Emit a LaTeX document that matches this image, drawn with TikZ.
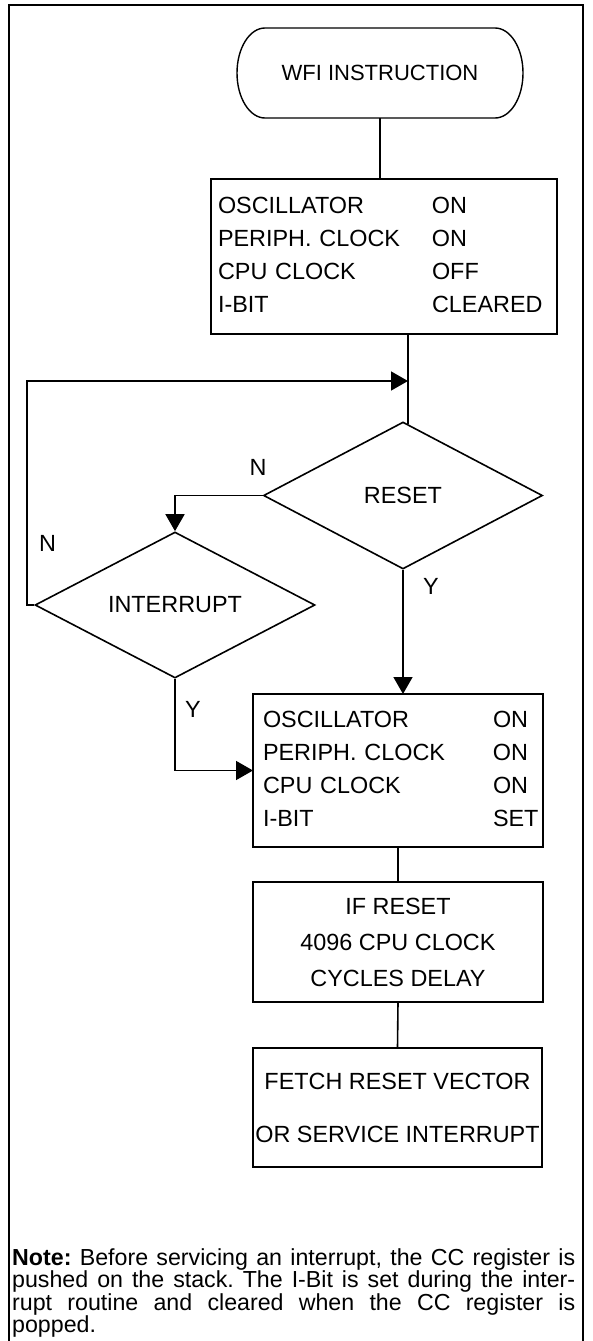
\documentclass[tikz,border=0pt]{standalone}
\usepackage{fontspec}
\setmainfont{Liberation Sans}
\frenchspacing
\usetikzlibrary{shapes.geometric,arrows.meta}
\tikzset{
  panel/.style={draw,line width=2pt,inner sep=0pt,outer sep=0pt,font=\fontsize{23.4}{33}\selectfont},
  choice/.style={draw,diamond,line width=1.6pt,inner sep=0pt,aspect=1.9,font=\fontsize{23.4}{27}\selectfont},
  flow/.style={line width=1.6pt},
  arr/.style={flow,-{Triangle[length=17pt,width=19pt]}},
  tag/.style={inner sep=0pt,font=\fontsize{23.4}{27}\selectfont},
}
\begin{document}
\begin{tikzpicture}[x=1pt,y=1pt]
      \useasboundingbox (0,0) rectangle (592,-1341);
      \draw[line width=2.6pt] (9,-1341) -- (9,-5) -- (583,-5) -- (583,-1341);
      \node[inner sep=0pt,outer sep=0pt,minimum width=286pt,minimum height=90pt,
        font=\fontsize{22}{26}\selectfont] (wfi) at (380,-73) {WFI INSTRUCTION};
      \draw[line width=1.4pt] ([xshift=28pt]wfi.north west) -- ([xshift=-28pt]wfi.north east)
        arc[start angle=90,end angle=-90,x radius=28pt,y radius=45pt]
        -- ([xshift=28pt]wfi.south west)
        arc[start angle=270,end angle=90,x radius=28pt,y radius=45pt] -- cycle;
      \node[panel,minimum width=346pt,minimum height=155pt,text width=332pt] (osc1) at (384,-256.5)
        {\begin{tabular}{@{}p{214pt}@{}l@{}}
          OSCILLATOR & ON\\
          PERIPH. CLOCK & ON\\
          CPU CLOCK & OFF\\
          I-BIT & CLEARED
        \end{tabular}};
      \node[choice,minimum width=279pt,minimum height=147pt] (reset) at (403,-495.5) {RESET};
      \node[choice,minimum width=280pt,minimum height=146pt] (intr) at (175,-605) {INTERRUPT};
      \node[panel,minimum width=290pt,minimum height=153pt,text width=270pt] (osc2) at (398,-770.5)
        {\begin{tabular}{@{}p{230pt}@{}l@{}}
          OSCILLATOR & ON\\
          PERIPH. CLOCK & ON\\
          CPU CLOCK & ON\\
          I-BIT & SET
        \end{tabular}};
      \node[panel,minimum width=290pt,minimum height=120pt,align=center,
        font=\fontsize{23.4}{36}\selectfont] (delay) at (398,-942)
        {IF RESET\\4096 CPU CLOCK\\CYCLES DELAY};
      \node[panel,minimum width=289pt,minimum height=119pt,align=center,
        font=\fontsize{23.4}{53}\selectfont] (fetch) at (397.5,-1107.5)
        {FETCH RESET VECTOR\\OR SERVICE INTERRUPT};
      \node[tag] (resetno) at (258,-467) {N};
      \node[tag] (intno) at (47.5,-543) {N};
      \node[tag] (resetyes) at (431,-586) {Y};
      \node[tag] (intyes) at (193,-709) {Y};
      \node[anchor=north west,inner sep=0pt,text width=563pt,align=justify,
        font=\fontsize{23.2}{22.5}\selectfont] (note) at (12,-1248)
        {\textbf{Note:} Before servicing an interrupt, the CC register is\linebreak
         pushed on the stack. The I-Bit is set during the inter-\linebreak
         rupt routine and cleared when the CC register is\linebreak
         popped.};
      \coordinate (join) at (408,-381);
      \coordinate (back) at (27,-605);
      \begin{scope}[flow]
        \draw (wfi.south) -- (wfi.south |- osc1.north);
        \draw (join |- osc1.south) -- (reset.86);
        \draw[arr] (intr.west) -- (back) |- (join);
        \draw[arr] (reset.west) -| (intr.north);
        \draw[arr] (reset.south) -- (reset.south |- osc2.north);
        \draw[arr] (intr.south) |- (osc2.west);
        \draw (osc2.south) -- (delay.north);
        \draw (delay.south) -- (fetch.north);
      \end{scope}
    \end{tikzpicture}
\end{document}
